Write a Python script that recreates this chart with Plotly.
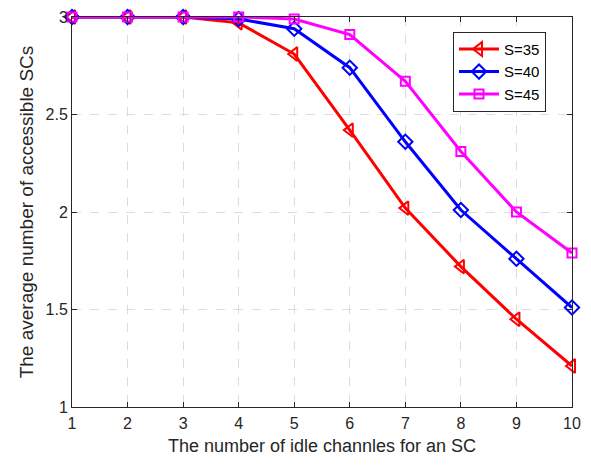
import plotly.graph_objects as go

x_channels = [1, 2, 3, 4, 5, 6, 7, 8, 9, 10]
s35 = [3.0, 3.0, 3.0, 2.97, 2.81, 2.42, 2.02, 1.72, 1.45, 1.21]
s40 = [3.0, 3.0, 3.0, 2.99, 2.94, 2.74, 2.36, 2.01, 1.76, 1.51]
s45 = [3.0, 3.0, 3.0, 3.0, 2.99, 2.91, 2.67, 2.31, 2.00, 1.79]
series_names = ["S=35", "S=40", "S=45"]
x_ticks = [1, 2, 3, 4, 5, 6, 7, 8, 9, 10]
y_ticks = [1, 1.5, 2, 2.5, 3]
y_tick_labels = ["1", "1.5", "2", "2.5", "3"]

colors = ["#ff0000", "#0000ff", "#ff00ff"]
symbols = ["triangle-left-open", "diamond-open", "square-open"]
sizes = [12, 11, 9]

fig = go.Figure()
for name, ys, c, sym, sz in zip(series_names, [s35, s40, s45], colors, symbols, sizes):
    fig.add_trace(go.Scatter(
        x=x_channels, y=ys, name=name, mode="lines+markers",
        line=dict(color=c, width=3),
        marker=dict(symbol=sym, size=sz, color=c, line=dict(color=c, width=2)),
        cliponaxis=False,
    ))

font_family = "Liberation Sans, Arial, sans-serif"
axis_common = dict(
    showline=True, linecolor="#262626", linewidth=1, mirror="ticks",
    ticks="inside", ticklen=5, tickcolor="#262626",
    showgrid=True, gridcolor="#dcdcdc", griddash="dash", gridwidth=1,
    zeroline=False, automargin=False,
    tickfont=dict(size=16, color="#262626", family=font_family),
)
fig.update_xaxes(range=[1, 10], tickvals=x_ticks, ticklabelstandoff=2,
                 title=dict(text="The number of idle channles for an SC",
                            font=dict(size=18, color="#262626", family=font_family), standoff=8),
                 **axis_common)
fig.update_yaxes(range=[1, 3], tickvals=y_ticks, ticktext=y_tick_labels,
                 title=dict(text="The average number of accessible SCs",
                            font=dict(size=19, color="#262626", family=font_family), standoff=6),
                 **axis_common)
fig.update_layout(
    width=591, height=466,
    margin=dict(l=72, r=19, t=17, b=59),
    plot_bgcolor="white", paper_bgcolor="white",
    font=dict(family=font_family, color="#262626"),
    legend=dict(x=0.762, y=0.962, xanchor="left", yanchor="top",
                bgcolor="white", bordercolor="#262626", borderwidth=1,
                font=dict(size=15, color="#000000", family=font_family),
                tracegroupgap=0, itemwidth=40),
    showlegend=True,
)
fig.write_html("out.html", config={"displayModeBar": False},
               post_script="document.body.style.margin='0';")
